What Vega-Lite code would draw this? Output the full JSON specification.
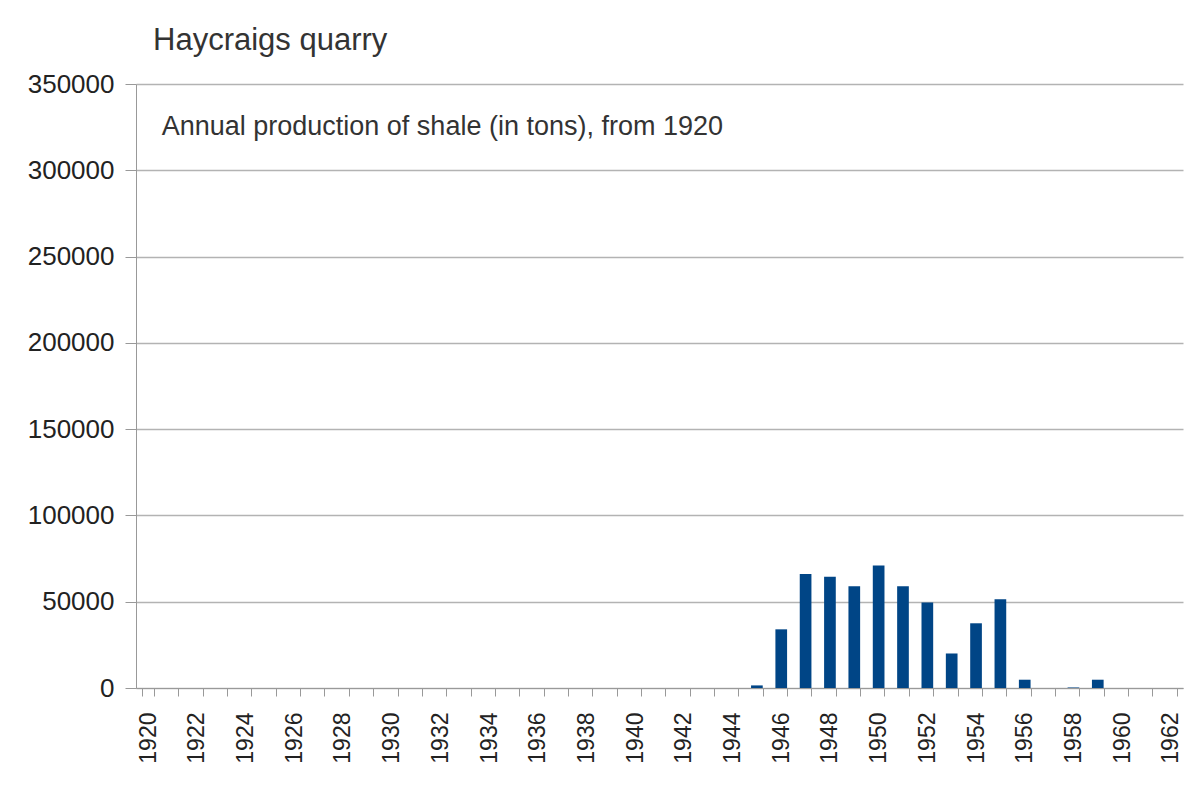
{
  "$schema": "https://vega.github.io/schema/vega-lite/v6.json",
  "width": 1047,
  "height": 604,
  "autosize": "none",
  "padding": {"left": 136, "top": 84, "right": 17, "bottom": 112},
  "background": "white",
  "title": {
    "text": "Haycraigs quarry",
    "anchor": "start",
    "frame": "group",
    "dx": 17,
    "dy": 42,
    "offset": 32,
    "baseline": "alphabetic",
    "font": "Liberation Sans",
    "fontSize": 31,
    "fontWeight": "normal",
    "color": "#333333"
  },
  "data": {
    "values": [
      {"year": 1920, "tons": 0}, {"year": 1921, "tons": 0}, {"year": 1922, "tons": 0},
      {"year": 1923, "tons": 0}, {"year": 1924, "tons": 0}, {"year": 1925, "tons": 0},
      {"year": 1926, "tons": 0}, {"year": 1927, "tons": 0}, {"year": 1928, "tons": 0},
      {"year": 1929, "tons": 0}, {"year": 1930, "tons": 0}, {"year": 1931, "tons": 0},
      {"year": 1932, "tons": 0}, {"year": 1933, "tons": 0}, {"year": 1934, "tons": 0},
      {"year": 1935, "tons": 0}, {"year": 1936, "tons": 0}, {"year": 1937, "tons": 0},
      {"year": 1938, "tons": 0}, {"year": 1939, "tons": 0}, {"year": 1940, "tons": 0},
      {"year": 1941, "tons": 0}, {"year": 1942, "tons": 0}, {"year": 1943, "tons": 0},
      {"year": 1944, "tons": 0}, {"year": 1945, "tons": 1500}, {"year": 1946, "tons": 34000},
      {"year": 1947, "tons": 66000}, {"year": 1948, "tons": 64500}, {"year": 1949, "tons": 59000},
      {"year": 1950, "tons": 71000}, {"year": 1951, "tons": 59000}, {"year": 1952, "tons": 49500},
      {"year": 1953, "tons": 20000}, {"year": 1954, "tons": 37500}, {"year": 1955, "tons": 51500},
      {"year": 1956, "tons": 4800}, {"year": 1957, "tons": 0}, {"year": 1958, "tons": 300},
      {"year": 1959, "tons": 4800}, {"year": 1960, "tons": 0}, {"year": 1961, "tons": 0},
      {"year": 1962, "tons": 0}
    ]
  },
  "encoding": {
    "x": {
      "field": "year",
      "type": "ordinal",
      "title": null,
      "scale": {"paddingInner": 0.52, "paddingOuter": 0.26},
      "axis": {
        "tickBand": "extent",
        "labelAngle": 270,
        "labelAlign": "right",
        "labelBaseline": "middle",
        "labelPadding": 16,
        "labelFont": "Liberation Sans",
        "labelFontSize": 23,
        "labelColor": "#222222",
        "labelExpr": "datum.value % 2 == 0 ? datum.label : ''",
        "tickSize": 8,
        "tickColor": "#999999",
        "domainColor": "#999999",
        "labelOverlap": false
      }
    }
  },
  "layer": [
    {
      "mark": {"type": "bar", "color": "#004586"},
      "encoding": {
        "y": {
          "field": "tons",
          "type": "quantitative",
          "title": null,
          "scale": {"domain": [0, 350000], "nice": false},
          "axis": {
            "values": [0, 50000, 100000, 150000, 200000, 250000, 300000, 350000],
            "format": "d",
            "grid": true,
            "gridColor": "#b3b3b3",
            "gridWidth": 1.5,
            "tickSize": 11,
            "tickColor": "#999999",
            "domainColor": "#999999",
            "labelPadding": 11,
            "labelFont": "Liberation Sans",
            "labelFontSize": 26,
            "labelColor": "#222222"
          }
        }
      }
    },
    {
      "data": {"values": [{}]},
      "mark": {
        "type": "text",
        "align": "left",
        "baseline": "middle",
        "dx": -5,
        "font": "Liberation Sans",
        "fontSize": 27,
        "color": "#333333"
      },
      "encoding": {
        "x": {"datum": 1921, "type": "ordinal", "bandPosition": 0},
        "y": {"datum": 325000, "type": "quantitative"},
        "text": {"value": "Annual production of shale (in tons), from 1920"}
      }
    }
  ],
  "config": {
    "view": {"stroke": null}
  }
}
